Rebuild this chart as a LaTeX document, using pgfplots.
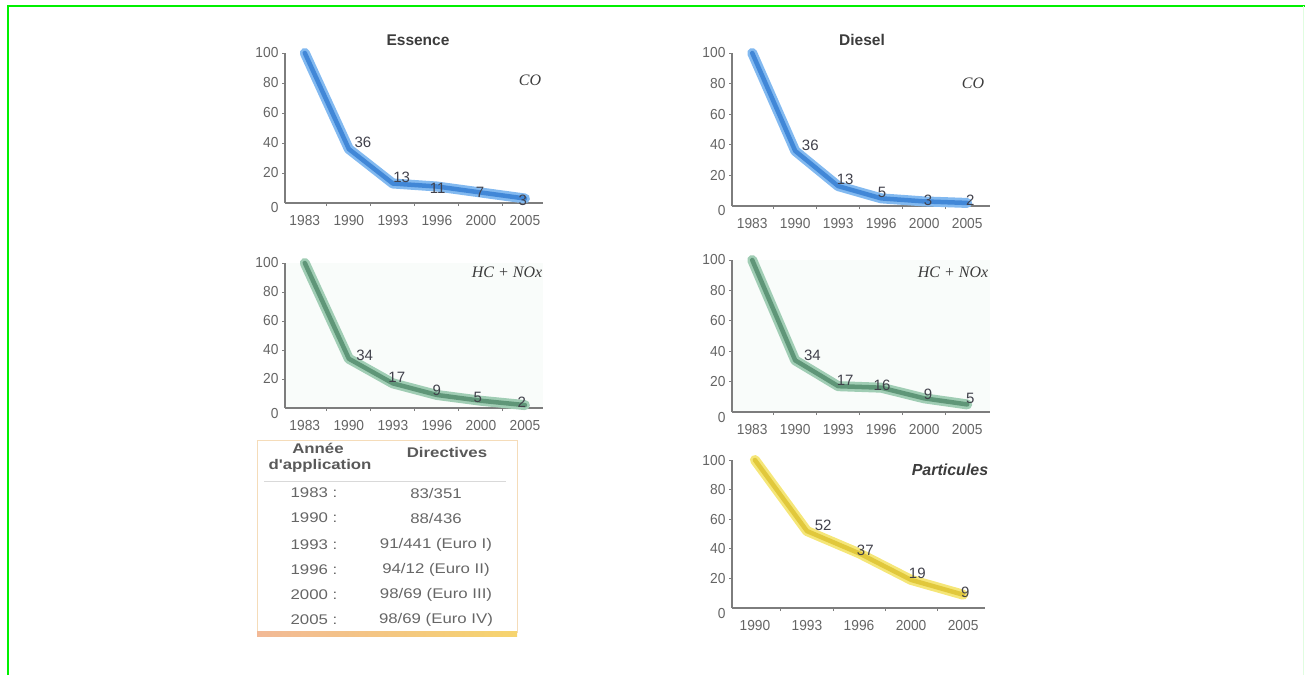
\documentclass[border=0pt]{standalone}
\usepackage{fontspec}
\setmainfont{Liberation Sans}
\newfontfamily\tickfont[FakeStretch=0.95]{Liberation Sans}
\newfontfamily\labfont[FakeStretch=1.0]{Liberation Sans}
\newfontfamily\tabfont[FakeStretch=1.2]{Liberation Sans}
\newfontfamily\serifit{Liberation Serif}
\usepackage{pgfplots}
\pgfplotsset{compat=1.18}

\definecolor{framegreen}{RGB}{0,240,0}
\definecolor{axisgray}{RGB}{125,125,125}
\definecolor{tickgray}{RGB}{100,100,100}
\definecolor{labgray}{RGB}{65,65,75}
\definecolor{titlegray}{RGB}{60,60,60}
\definecolor{blueout}{RGB}{130,185,240}
\definecolor{bluein}{RGB}{65,135,215}
\definecolor{greenout}{RGB}{160,205,180}
\definecolor{greenin}{RGB}{95,150,120}
\definecolor{yelout}{RGB}{245,230,120}
\definecolor{yelin}{RGB}{225,200,60}
\definecolor{hcback}{RGB}{249,252,250}
\definecolor{tabborder}{RGB}{245,220,185}
\definecolor{salmon}{RGB}{242,185,150}
\definecolor{yelbar}{RGB}{246,212,110}

\pgfplotsset{
  emis/.style={
    scale only axis, clip=false,
    axis lines*=left,
    axis line style={-, draw=axisgray, line width=1.5pt},
    ymin=0, ymax=100,
    ytick={20,40,60,80,100},
    extra y ticks={0},
    extra y tick style={yticklabel style={yshift=-5pt}, tick style={draw=none}},
    major x tick style={draw=none},
    tick align=outside,
    major tick length=3pt, minor tick length=3pt,
    tick style={axisgray, line width=1pt},
    /pgf/number format/assume math mode=true,
    ticklabel style={font=\tickfont\fontsize{14.5}{14.5}\selectfont, text=tickgray},
    xticklabel style={yshift=-6pt},
  },
  six/.style={xtick={0,...,5}, minor xtick={0.5,1.5,2.5,3.5,4.5},
    xticklabels={1983,1990,1993,1996,2000,2005}},
  outer/.style={line width=10pt, line join=round, line cap=round, #1},
  inner/.style={line width=4.5pt, line join=round, line cap=round, #1},
  vals/.style={only marks, mark=none, point meta=explicit symbolic, nodes near coords,
    nodes near coords style={font=\labfont\fontsize{15}{15}\selectfont, text=labgray, anchor=center}},
}

\begin{document}
\begin{tikzpicture}
\useasboundingbox (0,0) rectangle (1305pt,-675pt);

% cadre vert
\draw[framegreen, line width=2pt] (7.5pt,-675pt) -- (7.5pt,-6pt) -- (1305pt,-6pt);
\draw[framegreen!12, line width=1pt] (1303.5pt,-6pt) -- (1303.5pt,-675pt);

% Essence CO
\begin{axis}[emis, six, at={(285pt,-203pt)}, anchor=south west,
  width=258pt, height=150pt, xmin=-0.45, xmax=5.41]
\addplot[outer=blueout] coordinates {(0,100) (1,36) (2,13) (3,11) (4,7) (5,3)};
\addplot[inner=bluein] coordinates {(0,100) (1,36) (2,13) (3,11) (4,7) (5,3)};
\addplot[vals] coordinates {(1.32,40.7)[36] (2.2,17.3)[13] (3.02,10)[11] (3.98,7.3)[7] (4.95,2)[3]};
\end{axis}

% Diesel CO
\begin{axis}[emis, six, at={(732pt,-206pt)}, anchor=south west,
  width=258pt, height=153pt, xmin=-0.47, xmax=5.53]
\addplot[outer=blueout] coordinates {(0,100) (1,36) (2,13) (3,5) (4,3) (5,2)};
\addplot[inner=bluein] coordinates {(0,100) (1,36) (2,13) (3,5) (4,3) (5,2)};
\addplot[vals] coordinates {(1.35,39.9)[36] (2.16,17.6)[13] (3.02,9.2)[5] (4.09,3.9)[3] (5.07,3.9)[2]};
\end{axis}

% Essence HC + NOx
\begin{axis}[emis, six, at={(285pt,-408pt)}, anchor=south west,
  width=258pt, height=145pt, xmin=-0.45, xmax=5.41,
  axis background/.style={fill=hcback}]
\addplot[outer=greenout] coordinates {(0,100) (1,34) (2,17) (3,9) (4,5) (5,2)};
\addplot[inner=greenin] coordinates {(0,100) (1,34) (2,17) (3,9) (4,5) (5,2)};
\addplot[vals] coordinates {(1.36,36.6)[34] (2.09,21.4)[17] (3.0,12.4)[9] (3.93,7.6)[5] (4.93,4)[2]};
\end{axis}

% Diesel HC + NOx
\begin{axis}[emis, six, at={(732pt,-412pt)}, anchor=south west,
  width=258pt, height=152pt, xmin=-0.47, xmax=5.53,
  axis background/.style={fill=hcback}]
\addplot[outer=greenout] coordinates {(0,100) (1,34) (2,17) (3,16) (4,9) (5,5)};
\addplot[inner=greenin] coordinates {(0,100) (1,34) (2,17) (3,16) (4,9) (5,5)};
\addplot[vals] coordinates {(1.4,37.5)[34] (2.16,21)[17] (3.02,17.8)[16] (4.09,11.8)[9] (5.07,9.2)[5]};
\end{axis}

% Diesel particules
\begin{axis}[emis, at={(732pt,-608pt)}, anchor=south west,
  width=253pt, height=148pt, xmin=-0.44, xmax=4.42,
  xtick={0,...,4}, minor xtick={0.5,1.5,2.5,3.5},
  xticklabels={1990,1993,1996,2000,2005}]
\addplot[outer=yelout] coordinates {(0,100) (1,52) (2,37) (3,19) (4,9)};
\addplot[inner=yelin] coordinates {(0,100) (1,52) (2,37) (3,19) (4,9)};
\addplot[vals] coordinates {(1.31,56)[52] (2.12,39)[37] (3.12,23.6)[19] (4.04,10.8)[9]};
\end{axis}

% titres et polluants
\node[font=\bfseries\fontsize{15.5}{15.5}\selectfont, text=titlegray] at (418pt,-40pt) {Essence};
\node[font=\bfseries\fontsize{15.5}{15.5}\selectfont, text=titlegray] at (862pt,-40pt) {Diesel};
\node[font=\serifit\itshape\fontsize{16}{16}\selectfont, text=titlegray] at (530pt,-80pt) {CO};
\node[font=\serifit\itshape\fontsize{16}{16}\selectfont, text=titlegray] at (973pt,-83pt) {CO};
\node[font=\serifit\itshape\fontsize{16}{16}\selectfont, text=titlegray] at (507pt,-272pt) {HC + NOx};
\node[font=\serifit\itshape\fontsize{16}{16}\selectfont, text=titlegray] at (953pt,-272pt) {HC + NOx};
\node[font=\bfseries\itshape\fontsize{16}{16}\selectfont, text=titlegray] at (950pt,-470pt) {Particules};

% tableau des directives
\draw[tabborder, line width=0.8pt] (257pt,-633pt) -- (257pt,-440pt) -- (517pt,-440pt) -- (517pt,-633pt);
\shade[left color=salmon, right color=yelbar] (257pt,-636pt) rectangle (517pt,-631pt);
\draw[black!15, line width=0.6pt] (264pt,-481pt) -- (506pt,-481pt);
\begin{scope}[every node/.style={text=black!65, font=\tabfont\bfseries\fontsize{14}{14}\selectfont}]
\node at (318pt,-448pt) {Année};
\node at (320pt,-466pt) {d'application};
\node at (447pt,-452pt) {Directives};
\end{scope}
\begin{scope}[every node/.style={text=black!60, font=\tabfont\fontsize{14}{14}\selectfont}]
\node at (314pt,-493pt) {1983 :};  \node at (436pt,-493pt) {83/351};
\node at (314pt,-518pt) {1990 :};  \node at (436pt,-518pt) {88/436};
\node at (314pt,-545pt) {1993 :};  \node at (436pt,-545pt) {91/441 (Euro I)};
\node at (314pt,-570pt) {1996 :};  \node at (436pt,-570pt) {94/12 (Euro II)};
\node at (314pt,-595pt) {2000 :};  \node at (436pt,-595pt) {98/69 (Euro III)};
\node at (314pt,-620pt) {2005 :};  \node at (436pt,-620pt) {98/69 (Euro IV)};
\end{scope}
\end{tikzpicture}
\end{document}
